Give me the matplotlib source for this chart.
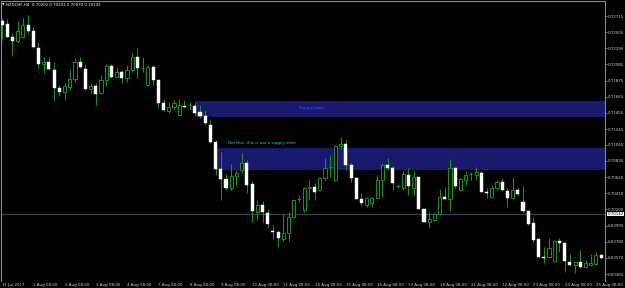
import matplotlib
matplotlib.use("Agg")
import matplotlib.pyplot as plt
from matplotlib.patches import Rectangle

# ---- data (NZDCHF H4) ----
opens = [0.72650, 0.72611, 0.72442, 0.72390, 0.72442, 0.72598, 0.72520, 0.72299, 0.72091, 0.72117,
         0.72013, 0.71779, 0.71727, 0.71792, 0.71896, 0.72117, 0.72026, 0.71766, 0.71805, 0.71714,
         0.71883, 0.72065, 0.71922, 0.71987, 0.71909, 0.72013, 0.72182, 0.72039, 0.71818, 0.72052,
         0.71883, 0.71584, 0.71480, 0.71532, 0.71428, 0.71545, 0.71558, 0.71545, 0.71467, 0.71415,
         0.71298, 0.71077, 0.70726, 0.70596, 0.70479, 0.70635, 0.70713, 0.70804, 0.70531, 0.70167,
         0.70258, 0.70154, 0.69920, 0.69907, 0.69816, 0.69894, 0.70102, 0.70336, 0.70193, 0.70479,
         0.70492, 0.70453, 0.70609, 0.70752, 0.70583, 0.71025, 0.71051, 0.70778, 0.70609, 0.70336,
         0.70258, 0.70284, 0.70349, 0.70583, 0.70778, 0.70739, 0.70505, 0.70479, 0.70648, 0.70479,
         0.70622, 0.70206, 0.70037, 0.70063, 0.70141, 0.70362, 0.70336, 0.70739, 0.70453, 0.70583,
         0.70661, 0.70648, 0.70674, 0.70427, 0.70362, 0.70479, 0.70557, 0.70440, 0.70349, 0.70453,
         0.70297, 0.70180, 0.70024, 0.69816, 0.69582, 0.69582, 0.69530, 0.69790, 0.69764, 0.69517,
         0.69478, 0.69517, 0.69452, 0.69478, 0.69491, 0.69608]
highs = [0.72689, 0.72676, 0.72494, 0.72650, 0.72689, 0.72728, 0.72572, 0.72377, 0.72182, 0.72182,
         0.72117, 0.71818, 0.71844, 0.72013, 0.72169, 0.72182, 0.72091, 0.71844, 0.71844, 0.71948,
         0.72091, 0.72091, 0.72052, 0.72013, 0.72078, 0.72234, 0.72299, 0.72182, 0.72078, 0.72078,
         0.71883, 0.71636, 0.71597, 0.71623, 0.71636, 0.71623, 0.71597, 0.71597, 0.71558, 0.71493,
         0.71376, 0.71103, 0.70947, 0.70661, 0.70791, 0.70713, 0.70934, 0.70843, 0.70570, 0.70323,
         0.70310, 0.70206, 0.69998, 0.69920, 0.70141, 0.70167, 0.70323, 0.70388, 0.70492, 0.70583,
         0.70544, 0.70622, 0.70869, 0.70908, 0.71038, 0.71142, 0.71103, 0.70804, 0.70622, 0.70414,
         0.70362, 0.70362, 0.70648, 0.70804, 0.70869, 0.70765, 0.70531, 0.70700, 0.70739, 0.70700,
         0.70622, 0.70206, 0.70167, 0.70167, 0.70466, 0.70492, 0.70856, 0.70752, 0.70609, 0.70700,
         0.70687, 0.70752, 0.70700, 0.70479, 0.70518, 0.70583, 0.70609, 0.70479, 0.70622, 0.70479,
         0.70505, 0.70193, 0.70102, 0.69816, 0.69712, 0.69829, 0.69803, 0.69829, 0.69777, 0.69621,
         0.69517, 0.69673, 0.69543, 0.69621, 0.69647, 0.69621]
lows = [0.72416, 0.72442, 0.72195, 0.72364, 0.72429, 0.72494, 0.72299, 0.72039, 0.71974, 0.72013,
        0.71610, 0.71675, 0.71623, 0.71753, 0.71857, 0.72039, 0.71753, 0.71714, 0.71558, 0.71701,
        0.71805, 0.71909, 0.71922, 0.71844, 0.71857, 0.71987, 0.71909, 0.71987, 0.71805, 0.71818,
        0.71532, 0.71480, 0.71454, 0.71506, 0.71415, 0.71519, 0.71506, 0.71428, 0.71389, 0.71298,
        0.71064, 0.70648, 0.70323, 0.70453, 0.70453, 0.70518, 0.70674, 0.70414, 0.70037, 0.70063,
        0.70037, 0.69959, 0.69816, 0.69712, 0.69790, 0.69790, 0.70089, 0.70297, 0.70167, 0.70323,
        0.70323, 0.70440, 0.70570, 0.70622, 0.70570, 0.70986, 0.70713, 0.70557, 0.70336, 0.70258,
        0.70232, 0.70232, 0.70349, 0.70362, 0.70713, 0.70453, 0.70479, 0.70453, 0.70388, 0.70388,
        0.70206, 0.70037, 0.69959, 0.70050, 0.70128, 0.70323, 0.70180, 0.70479, 0.70440, 0.70518,
        0.70583, 0.70583, 0.70427, 0.70349, 0.70349, 0.70453, 0.70440, 0.70232, 0.70336, 0.70388,
        0.70167, 0.69998, 0.69777, 0.69569, 0.69504, 0.69569, 0.69530, 0.69647, 0.69387, 0.69465,
        0.69374, 0.69439, 0.69439, 0.69465, 0.69478, 0.69556]
closes = [0.72598, 0.72442, 0.72390, 0.72520, 0.72598, 0.72520, 0.72312, 0.72091, 0.72117, 0.72026,
          0.71779, 0.71727, 0.71805, 0.71896, 0.72117, 0.72052, 0.71766, 0.71805, 0.71701, 0.71883,
          0.72065, 0.71922, 0.71987, 0.71909, 0.72013, 0.72182, 0.72039, 0.72039, 0.72052, 0.71883,
          0.71584, 0.71493, 0.71532, 0.71584, 0.71558, 0.71532, 0.71558, 0.71454, 0.71415, 0.71324,
          0.71077, 0.70726, 0.70596, 0.70479, 0.70635, 0.70674, 0.70804, 0.70518, 0.70180, 0.70258,
          0.70167, 0.70011, 0.69907, 0.69829, 0.69894, 0.70102, 0.70323, 0.70336, 0.70479, 0.70492,
          0.70427, 0.70609, 0.70739, 0.70752, 0.71025, 0.71051, 0.70778, 0.70609, 0.70336, 0.70284,
          0.70349, 0.70349, 0.70583, 0.70778, 0.70739, 0.70544, 0.70505, 0.70661, 0.70505, 0.70622,
          0.70206, 0.70037, 0.70076, 0.70141, 0.70362, 0.70336, 0.70739, 0.70505, 0.70596, 0.70648,
          0.70661, 0.70687, 0.70427, 0.70414, 0.70479, 0.70557, 0.70453, 0.70349, 0.70453, 0.70401,
          0.70180, 0.70011, 0.69803, 0.69582, 0.69569, 0.69699, 0.69790, 0.69764, 0.69530, 0.69478,
          0.69517, 0.69452, 0.69504, 0.69504, 0.69608, 0.69569]

time_labels = ["31 Jul 2017", "1 Aug 08:00", "2 Aug 08:00", "3 Aug 08:00", "4 Aug 08:00",
               "7 Aug 08:00", "8 Aug 08:00", "9 Aug 08:00", "10 Aug 08:00", "11 Aug 08:00",
               "14 Aug 08:00", "15 Aug 08:00", "16 Aug 08:00", "17 Aug 08:00", "18 Aug 08:00",
               "21 Aug 08:00", "22 Aug 08:00", "23 Aug 08:00", "24 Aug 08:00", "25 Aug 08:00"]
price_ticks = [0.72715, 0.72505, 0.72295, 0.72085, 0.71875, 0.71665, 0.71455, 0.71245, 0.71040,
               0.70830, 0.70620, 0.70410, 0.70200, 0.69990, 0.69780, 0.69570, 0.69360]
current_price = 0.70142
header = "NZDCHF,H4  0.70202 0.70203 0.70070 0.70142"

zone_start = [37, 41.2]
zone_top = [0.71610, 0.71003]
zone_bottom = [0.71406, 0.70713]
zone_texts = ["Supply zone", "Not this, this is not a supply zone"]
zone_text_x = [57, 43.4]
zone_text_y = [0.71519, 0.71064]
zone_text_colors = ["#3a5cff", "#2fd0d0"]

# ---- figure ----
W, H = 625, 288
fig = plt.figure(figsize=(W / 100, H / 100), dpi=100, facecolor="black")
left_px, right_px, top_px, bot_px = 1.5, 605, 1, 281
ax = fig.add_axes([left_px / W, 1 - bot_px / H, (right_px - left_px) / W, (bot_px - top_px) / H])
ax.set_facecolor("black")

n = len(opens)
xs = list(range(n))
ax.set_xlim(-0.1, 115.74)
ax.set_ylim(0.69270, 0.72910)

font = "DejaVu Sans"
fs = 2.9
green = "#12961a"

# zones
for s, t, b in zip(zone_start, zone_top, zone_bottom):
    ax.add_patch(Rectangle((s, b), 200, t - b, facecolor="#191970", edgecolor="none", zorder=1))
for tx, x, y, c in zip(zone_texts, zone_text_x, zone_text_y, zone_text_colors):
    ax.text(x, y, tx, color=c, fontsize=fs, family=font, va="center", ha="left", zorder=5)

# current price line
ax.axhline(current_price, color="#3c4248", lw=0.9, zorder=1.5)

# candles
body_w = 0.6
for i in xs:
    o, h, l, c = opens[i], highs[i], lows[i], closes[i]
    ax.vlines(i, l, h, color=green, lw=0.75, zorder=2)
    if abs(c - o) < 1e-9:
        ax.hlines(o, i - body_w / 2, i + body_w / 2, color=green, lw=0.75, zorder=3)
    elif c > o:
        ax.add_patch(Rectangle((i - body_w / 2, o), body_w, c - o, facecolor="black",
                               edgecolor=green, lw=0.7, zorder=3))
    else:
        ax.add_patch(Rectangle((i - body_w / 2, c), body_w, o - c, facecolor="white",
                               edgecolor="white", lw=0.3, zorder=3))

# axes styling
for sp in ax.spines.values():
    sp.set_color("#8a8a8a")
    sp.set_linewidth(0.8)
ax.spines["bottom"].set_visible(False)

ax.yaxis.tick_right()
ax.set_yticks(price_ticks)
ax.set_yticklabels([f"{p:.5f}" for p in price_ticks], family=font, fontsize=fs, color="#d0d0d0")
ax.tick_params(axis="y", length=1.5, width=0.5, color="#b0b0b0", pad=0.5)

ax.set_xticks([6 * k for k in range(len(time_labels))])
ax.set_xticklabels(time_labels, family=font, fontsize=fs, color="#d0d0d0", ha="left")
ax.tick_params(axis="x", length=0, pad=1.2)

# current price box on axis
ax.text(1.004, current_price, f"{current_price:.5f}", transform=ax.get_yaxis_transform(),
        fontsize=fs, family=font, color="black", va="center", ha="left",
        bbox=dict(boxstyle="square,pad=0.1", facecolor="white", edgecolor="none"), zorder=10,
        clip_on=False)

# header
fig.text(2.0 / W, 1 - 4.5 / H, "\u25BC", color="white", fontsize=2.3, va="center", ha="left")
fig.text(6.5 / W, 1 - 4.5 / H, header, color="white", fontsize=fs, family=font, va="center", ha="left")

fig.savefig("out.png", dpi=100, facecolor="black")
